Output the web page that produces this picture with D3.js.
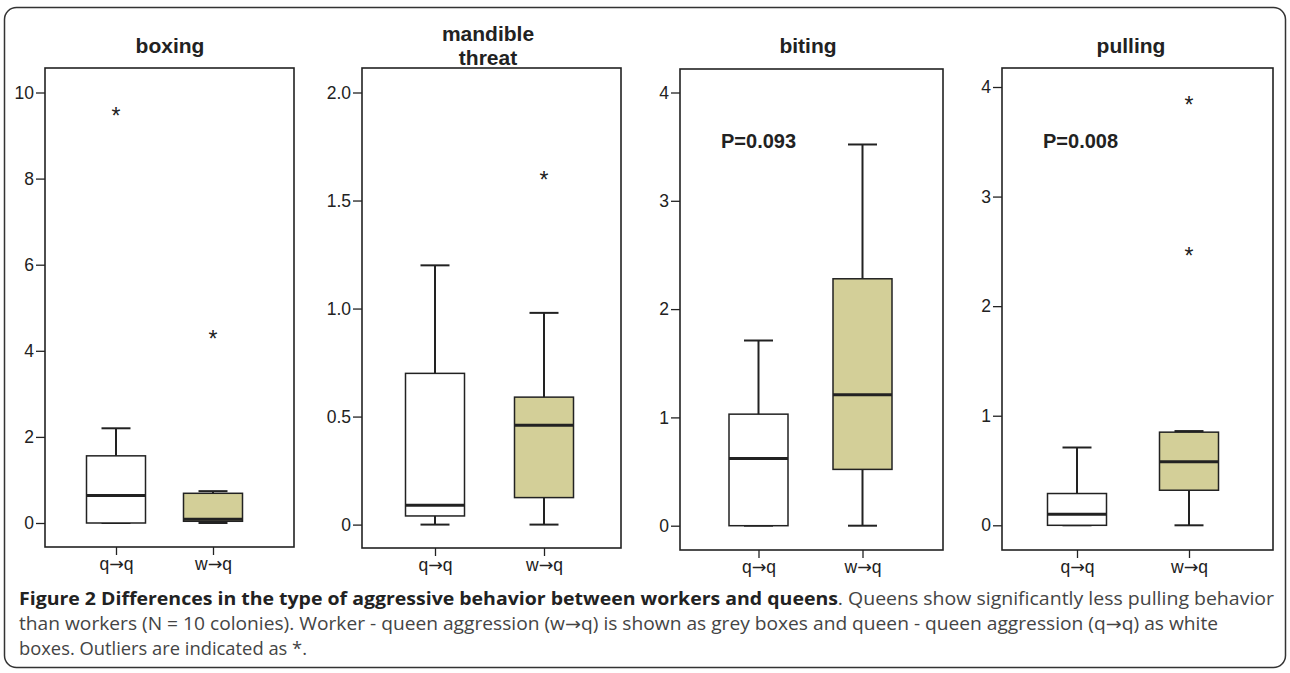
<!DOCTYPE html>
<html>
<head>
<meta charset="utf-8">
<script src="https://d3js.org/d3.v7.min.js"></script>
<style>
  body { margin: 0; background: #fff; }
  svg { display: block; }
</style>
</head>
<body>
<script>
    // data (five number summary = low whisker, q1, median, q3, high whisker)
    const groups = ["q→q", "w→q"]
    const panelTitles = [["boxing"], ["mandible", "threat"], ["biting"], ["pulling"]]

    const boxingSummary = [[0, 0, 0.64, 1.56, 2.2], [0, 0.04, 0.09, 0.69, 0.74]]
    const mandibleSummary = [[0, 0.04, 0.09, 0.70, 1.20], [0, 0.125, 0.46, 0.59, 0.98]]
    const bitingSummary = [[0, 0, 0.62, 1.03, 1.71], [0, 0.52, 1.21, 2.28, 3.52]]
    const pullingSummary = [[0, 0, 0.10, 0.29, 0.71], [0, 0.32, 0.58, 0.85, 0.86]]

    const boxingOutliers = [[9.6], [4.42]]
    const mandibleOutliers = [[], [1.62]]
    const bitingOutliers = [[], []]
    const pullingOutliers = [[], [3.89, 2.51]]

    const boxingTicks = [0, 2, 4, 6, 8, 10]
    const mandibleTicks = [0, 0.5, 1.0, 1.5, 2.0]
    const mandibleTickLabels = ["0", "0.5", "1.0", "1.5", "2.0"]
    const bitingTicks = [0, 1, 2, 3, 4]
    const pullingTicks = [0, 1, 2, 3, 4]

    const pLabels = ["", "", "P=0.093", "P=0.008"]

    const captionBold = "Figure 2 Differences in the type of aggressive behavior between workers and queens"
    const captionLines = [
      ". Queens show significantly less pulling behavior",
      "than workers (N = 10 colonies). Worker - queen aggression (w→q) is shown as grey boxes and queen - queen aggression (q→q) as white",
      "boxes. Outliers are indicated as *."
    ]

    const width = 1290, height = 673
    const boxFill = ["#ffffff", "#d3cf98"]
    const ink = "#222"
    const arrowFont = "'DejaVu Sans', sans-serif"

    let svg = d3.select("body")
      .append("svg")
      .attr("width", width)
      .attr("height", height)
      .style("font-family", "'Liberation Sans', Arial, sans-serif")

    // split a string so the arrows get a font with a bigger arrow glyph
    function withArrows(textSel, str) {
      textSel.text(null)
      str.split(/(→)/).filter(s => s.length).forEach(function(s) {
        const t = textSel.append("tspan").text(s)
        if (s == "→") t.style("font-family", arrowFont)
      })
    }

    // outer rounded frame
    svg.append("rect")
      .attr("x", 4.5).attr("y", 7.5)
      .attr("width", 1281).attr("height", 660)
      .attr("rx", 12)
      .attr("fill", "none")
      .attr("stroke", "#333")
      .attr("stroke-width", 1.5)

    // panel layout (pixel frames + where the zero and top tick sit)
    const panels = [
      {summary: boxingSummary, outliers: boxingOutliers, ticks: boxingTicks, labels: boxingTicks.map(String),
       left: 45, right: 294, top: 68, bottom: 547, y0: 523, yTop: 92.5, cx: [116, 213], titleX: 170},
      {summary: mandibleSummary, outliers: mandibleOutliers, ticks: mandibleTicks, labels: mandibleTickLabels,
       left: 362, right: 621, top: 68, bottom: 548, y0: 524.6, yTop: 92.5, cx: [435, 544], titleX: 488},
      {summary: bitingSummary, outliers: bitingOutliers, ticks: bitingTicks, labels: bitingTicks.map(String),
       left: 680, right: 943, top: 69, bottom: 550, y0: 525.7, yTop: 92.5, cx: [758.5, 862.5], titleX: 808},
      {summary: pullingSummary, outliers: pullingOutliers, ticks: pullingTicks, labels: pullingTicks.map(String),
       left: 1002, right: 1273, top: 68, bottom: 550, y0: 525.3, yTop: 87, cx: [1077, 1189], titleX: 1131}
    ]

    const boxW = 59, capW = 29

    panels.forEach(function(p, i) {
      const g = svg.append("g").attr("id", "panel_" + i)
      const topTick = p.ticks[p.ticks.length - 1]

      const y = d3.scaleLinear()
        .domain([0, topTick])
        .range([p.y0, p.yTop])
      const x = d3.scaleOrdinal()
        .domain(groups)
        .range(p.cx)

      // title
      const nT = panelTitles[i].length
      g.append("text")
        .attr("class", "title")
        .attr("text-anchor", "middle")
        .style("font-weight", "bold")
        .style("font-size", "21px")
        .attr("fill", ink)
        .selectAll("tspan")
        .data(panelTitles[i])
        .enter()
        .append("tspan")
        .attr("x", p.titleX)
        .attr("y", (d, j) => (nT == 1 ? 45 : 33 + j * 24))
        .attr("dy", "0.36em")
        .text(d => d)

      // y axis
      const yAxis = g.append("g")
        .attr("transform", `translate(${p.left}, 0)`)
        .call(d3.axisLeft(y)
          .tickValues(p.ticks)
          .tickFormat((d, j) => p.labels[j])
          .tickSize(9)
          .tickPadding(2))
      yAxis.select(".domain").remove()

      // x axis
      const xAxis = g.append("g")
        .attr("transform", `translate(0, ${p.bottom})`)
        .call(d3.axisBottom(d3.scalePoint().domain(groups).range(p.cx))
          .tickSize(8)
          .tickPadding(3))
      xAxis.select(".domain").remove()
      xAxis.selectAll(".tick text").each(function(d) { withArrows(d3.select(this), d) })

      g.selectAll(".tick line").attr("stroke", ink).attr("stroke-width", 1.3)
      g.selectAll("g.tick text")
        .attr("fill", ink)
        .attr("font-size", null)
        .style("font-size", "17.5px")
        .style("font-family", "'Liberation Sans', Arial, sans-serif")
      yAxis.attr("font-size", 17.5)
      xAxis.attr("font-size", 17.5)

      // boxes
      const boxes = g.selectAll(".box")
        .data(p.summary)
        .enter()
        .append("g")
        .attr("class", "box")

      boxes.append("line")
        .attr("x1", (d, j) => x(groups[j])).attr("x2", (d, j) => x(groups[j]))
        .attr("y1", d => y(d[0])).attr("y2", d => y(d[4]))
        .attr("stroke", ink).attr("stroke-width", 2)
      boxes.each(function(d, j) {
        d3.select(this).selectAll(".cap")
          .data([d[0], d[4]])
          .enter()
          .append("line")
          .attr("class", "cap")
          .attr("x1", x(groups[j]) - capW / 2)
          .attr("x2", x(groups[j]) + capW / 2)
          .attr("y1", v => y(v)).attr("y2", v => y(v))
          .attr("stroke", ink).attr("stroke-width", 2)
      })
      boxes.append("rect")
        .attr("x", (d, j) => x(groups[j]) - boxW / 2)
        .attr("width", boxW)
        .attr("y", d => y(d[3]))
        .attr("height", d => Math.max(0, y(d[1]) - y(d[3])))
        .attr("fill", (d, j) => boxFill[j])
        .attr("stroke", ink).attr("stroke-width", 1.5)
      boxes.append("line")
        .attr("x1", (d, j) => x(groups[j]) - boxW / 2).attr("x2", (d, j) => x(groups[j]) + boxW / 2)
        .attr("y1", d => y(d[2])).attr("y2", d => y(d[2]))
        .attr("stroke", ink).attr("stroke-width", 3)

      // outliers drawn as asterisks
      p.outliers.forEach(function(vals, j) {
        g.selectAll(".out" + j)
          .data(vals)
          .enter()
          .append("text")
          .attr("class", "out" + j)
          .attr("x", x(groups[j]))
          .attr("y", d => y(d))
          .attr("dy", "0.6em")
          .attr("text-anchor", "middle")
          .style("font-size", "23px")
          .attr("fill", ink)
          .text("*")
      })

      // p value
      if (pLabels[i]) {
        g.append("text")
          .attr("x", p.left + 41)
          .attr("y", 141)
          .attr("dy", "0.36em")
          .style("font-weight", "bold")
          .style("font-size", "20px")
          .attr("fill", ink)
          .text(pLabels[i])
      }

      // panel frame
      g.append("rect")
        .attr("x", p.left).attr("y", p.top)
        .attr("width", p.right - p.left).attr("height", p.bottom - p.top)
        .attr("fill", "none")
        .attr("stroke", ink)
        .attr("stroke-width", 1.6)
    })

    // caption
    const cap = svg.append("g")
      .style("font-family", "'Open Sans', sans-serif")
      .style("font-size", "17.5px")
    const line1 = cap.append("text")
      .attr("x", 19).attr("y", 605)
      .attr("textLength", 1255)
      .attr("lengthAdjust", "spacingAndGlyphs")
    line1.append("tspan").style("font-weight", "bold").attr("fill", "#222").text(captionBold)
    line1.append("tspan").attr("fill", "#444").text(captionLines[0])
    const line2 = cap.append("text")
      .attr("x", 19).attr("y", 630)
      .attr("textLength", 1199)
      .attr("lengthAdjust", "spacingAndGlyphs")
      .attr("fill", "#444")
    withArrows(line2, captionLines[1])
    cap.append("text")
      .attr("x", 19).attr("y", 655)
      .attr("textLength", 288)
      .attr("lengthAdjust", "spacingAndGlyphs")
      .attr("fill", "#444")
      .text(captionLines[2])
</script>
</body>
</html>
